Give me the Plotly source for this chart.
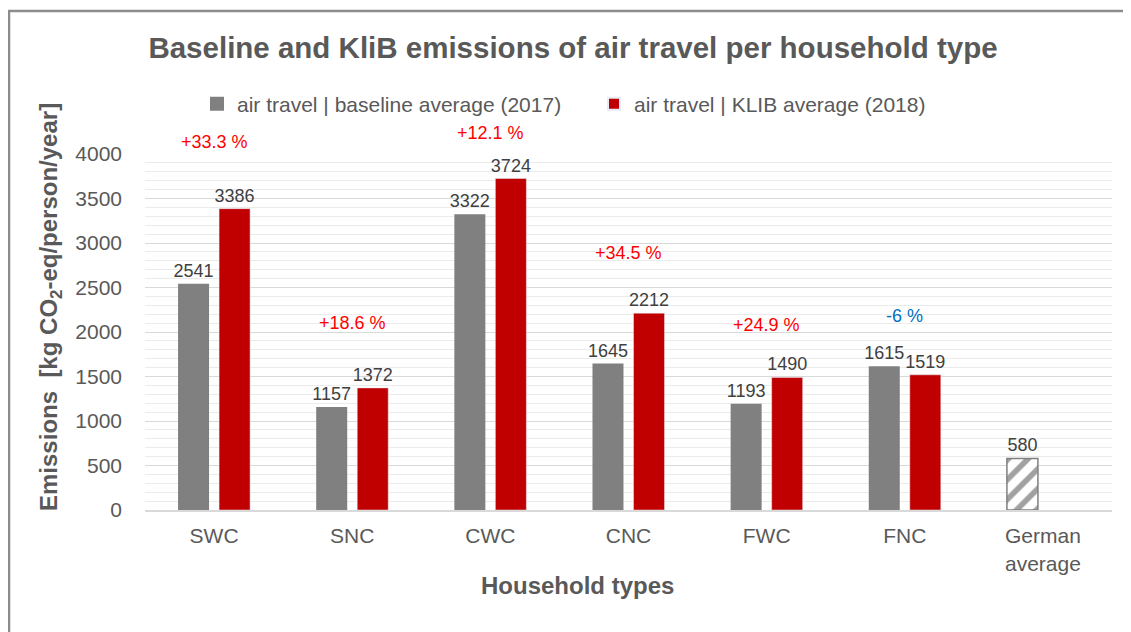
import plotly.graph_objects as go

categories = ["SWC", "SNC", "CWC", "CNC", "FWC", "FNC", "German<br>average"]
baseline_2017 = [2541, 1157, 3322, 1645, 1193, 1615, 580]
klib_2018 = [3386, 1372, 3724, 2212, 1490, 1519, None]
pct_labels = ["+33.3 %", "+18.6 %", "+12.1 %", "+34.5 %", "+24.9 %", "-6 %"]
pct_label_y = [4135, 2100, 4236, 2888, 2079, 2180]
pct_colors = ["#FF0000", "#FF0000", "#FF0000", "#FF0000", "#FF0000", "#0070C0"]
y_ticks = [0, 500, 1000, 1500, 2000, 2500, 3000, 3500, 4000]
y_max = 4000

GREY = "#808080"
RED = "#C00000"
FONT = "Liberation Sans, Arial, sans-serif"

# page body has an 8px margin, so the figure is 8px smaller than the window
W, H = 1123, 624
L, R, T, B = 137, 19, 146, 122
pw, ph = W - L - R, H - T - B

n = len(categories)
shapes_pat = [""] * (n - 1) + ["/"]
fill_col = [GREY] * (n - 1) + ["white"]
line_w = [0] * (n - 1) + [1.5]

fig = go.Figure()
fig.add_trace(go.Bar(
    x=categories, y=baseline_2017, name="air travel | baseline average (2017)",
    marker=dict(color=fill_col, line=dict(color=GREY, width=line_w),
                pattern=dict(shape=shapes_pat, fgcolor=GREY, bgcolor="white",
                             size=14, solidity=0.4, fillmode="overlay")),
    texttemplate="%{y}", textposition="outside", constraintext="none",
    textfont=dict(size=18, color="#404040", family=FONT), cliponaxis=False,
))
fig.add_trace(go.Bar(
    x=categories, y=klib_2018, name="air travel | KLIB average (2018)",
    marker=dict(color=RED),
    texttemplate="%{y}", textposition="outside", constraintext="none",
    textfont=dict(size=18, color="#404040", family=FONT), cliponaxis=False,
))

for cat, lab, yv, col in zip(categories, pct_labels, pct_label_y, pct_colors):
    fig.add_annotation(x=cat, y=yv / y_max, xref="x", yref="paper", text=lab,
                       xanchor="center", yanchor="middle",
                       showarrow=False, font=dict(size=18, color=col, family=FONT))

# axis titles (offset from plot centre as in the original)
fig.add_annotation(x=(42 - L) / pw, y=(T + ph - 299) / ph, xref="paper", yref="paper",
                   text="<b>Emissions  [kg CO<sub>2</sub>-eq/person/year]</b>",
                   textangle=-90, showarrow=False, xanchor="center", yanchor="middle",
                   font=dict(size=24, color="#595959", family=FONT))
fig.add_annotation(x=(569 - L) / pw, y=-(577 - T - ph) / ph, xref="paper", yref="paper",
                   text="<b>Household types</b>", showarrow=False,
                   xanchor="center", yanchor="middle",
                   font=dict(size=24, color="#595959", family=FONT))

# chart frame
fig.add_shape(type="rect", xref="paper", yref="paper",
              x0=(1 - L) / pw, x1=(W + 20 - L) / pw,
              y0=-(B + 20) / ph, y1=(T - 3) / ph + 1,
              line=dict(color="#8C8C8C", width=2.5), layer="below")

fig.update_layout(
    width=W, height=H,
    margin=dict(l=L, r=R, t=T, b=B),
    paper_bgcolor="white", plot_bgcolor="white",
    barmode="group", bargap=0.406, bargroupgap=0.244,
    font=dict(family=FONT, color="#595959"),
    title=dict(text="<b>Baseline and KliB emissions of air travel per household type</b>",
               x=565 / W, xanchor="center", y=1 - 40 / H, yanchor="middle",
               font=dict(size=29.5, color="#595959", family=FONT)),
    legend=dict(orientation="h", x=(189 - L) / pw, xanchor="left",
                y=(T - 96) / ph + 1, yanchor="middle", entrywidth=352,
                font=dict(size=21, color="#595959", family=FONT),
                itemsizing="constant", traceorder="normal"),
    showlegend=True,
)
fig.update_yaxes(
    range=[0, y_max], tickvals=y_ticks, ticks="", ticklabelstandoff=22,
    tickfont=dict(size=21, color="#595959", family=FONT),
    showgrid=True, gridcolor="#D9D9D9", gridwidth=1.2, zeroline=False,
    minor=dict(dtick=100, showgrid=True, gridcolor="#EBEBEB", gridwidth=1),
)
fig.update_xaxes(
    showline=True, linecolor="#D9D9D9", linewidth=2, ticks="",
    ticklabelstandoff=6,
    tickfont=dict(size=21, color="#595959", family=FONT),
)

fig.write_html("out.html")
